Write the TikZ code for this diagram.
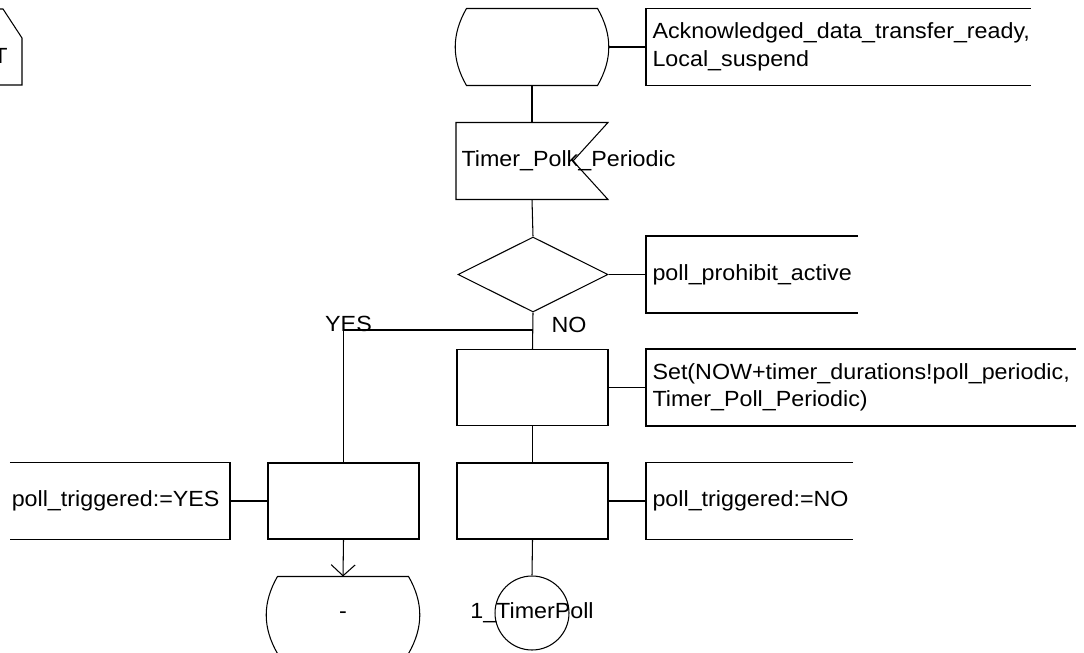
\documentclass[tikz,border=0pt]{standalone}
\usepackage{fontspec}
\setmainfont{Liberation Sans}[FakeStretch=1.06]
\usetikzlibrary{shapes.geometric, arrows.meta, positioning}

\tikzset{
  task/.style={draw, minimum width=3.02cm, minimum height=1.52cm, inner sep=0pt},
  decision/.style={draw, diamond, minimum width=3.0cm, minimum height=1.5cm, inner sep=0pt},
  state/.style={minimum width=3.04cm, minimum height=1.52cm, inner sep=0pt},
  signal/.style={minimum width=3.02cm, minimum height=1.52cm, inner sep=0pt},
  note/.style={minimum height=1.52cm, inner xsep=0.12cm, inner ysep=0pt, align=left, anchor=west},
  joint/.style={draw, circle, minimum size=1.48cm, inner sep=0pt},
}

\begin{document}
\begin{tikzpicture}[x=0.02cm, y=-0.02cm, line width=0.6pt,
    font=\fontsize{12.5}{15.6}\selectfont]
    \useasboundingbox (0,0) rectangle (1084,652);
    \clip (0,0) rectangle (1084,652);

    % page corner on the left
    \draw (-30,9) -- (3,9) -- (22,38) -- (22,85) -- (-30,85);
    \node[anchor=east, inner sep=0pt] (hdr) at (8,56) {T};

    % main column
    \node[state] (st1) at (532,47) {};
    \node[signal] (sig) at (532,161) {};
    \node[anchor=west, inner sep=0pt] (sigtxt) at (461,161) {Timer\_Polk\_Periodic};
    \node[decision] (dec) at (533,274.5) {};
    \node[task] (set) at (532.5,387.5) {};
    \node[task] (tno) at (532.5,501) {};
    \node[joint] (cp) at (532,613) {};
    \node (cptxt) at (cp) {1\_TimerPoll};

    % YES branch
    \node[task] (tyes) at (343.5,501) {};
    \node[state] (st2) at (343,615) {-};

    % comments
    \node[note, text width=7.44cm] (c1) at (646,47) {Acknowledged\_data\_transfer\_ready,\\Local\_suspend};
    \node[note, text width=3.98cm] (c2) at (646,274.5) {poll\_prohibit\_active};
    \node[note, text width=8.34cm] (c3) at (646,387.5) {Set(NOW+timer\_durations!poll\_periodic,\\Timer\_Poll\_Periodic)};
    \node[note, text width=3.88cm] (c4) at (646,501) {poll\_triggered:=NO};
    \node[note, anchor=east, minimum width=4.38cm,
      label={[anchor=east, inner sep=0pt, xshift=-0.2cm]east:poll\_triggered:=YES}] (c5) at (230,501) {};

    % state outlines
    \foreach \s in {st1,st2}
      \draw ([xshift=0.22cm]\s.north west) -- ([xshift=-0.22cm]\s.north east)
        to[out=-60,in=60] ([xshift=-0.22cm]\s.south east)
        -- ([xshift=0.22cm]\s.south west)
        to[out=120,in=-120] ([xshift=0.22cm]\s.north west);

    % input signal outline
    \draw (sig.north west) -- (sig.north east) -- ([xshift=-0.7cm]sig.east)
      -- (sig.south east) -- (sig.south west) -- cycle;

    % comment brackets
    \foreach \c in {c1,c2,c3,c4}
      \draw (\c.north east) -- (\c.north west) -- (\c.south west) -- (\c.south east);
    \draw (c5.north west) -- (c5.north east) -- (c5.south east) -- (c5.south west);

    % flow lines
    \draw (st1.east) -- (c1.west);
    \draw (st1.south) -- (sig.north);
    \draw (sig.south) -- (dec.north);
    \draw (dec.east) -- (c2.west);
    \draw (dec.south) -- (set.north);
    \coordinate (br) at (532.5,330);
    \draw (br) -| (tyes.north);
    \draw (set.east) -- (c3.west);
    \draw (set.south) -- (tno.north);
    \draw (tno.east) -- (c4.west);
    \draw (tno.south) -- (cp.north);
    \draw (tyes.west) -- (c5.east);
    \draw[-{Straight Barb[length=0.22cm, width=0.48cm]}] (tyes.south) -- (st2.north);

    % branch answers
    \node (yes) at (348.5,324) {YES};
    \node (no) at (569,324.5) {NO};
\end{tikzpicture}
\end{document}
